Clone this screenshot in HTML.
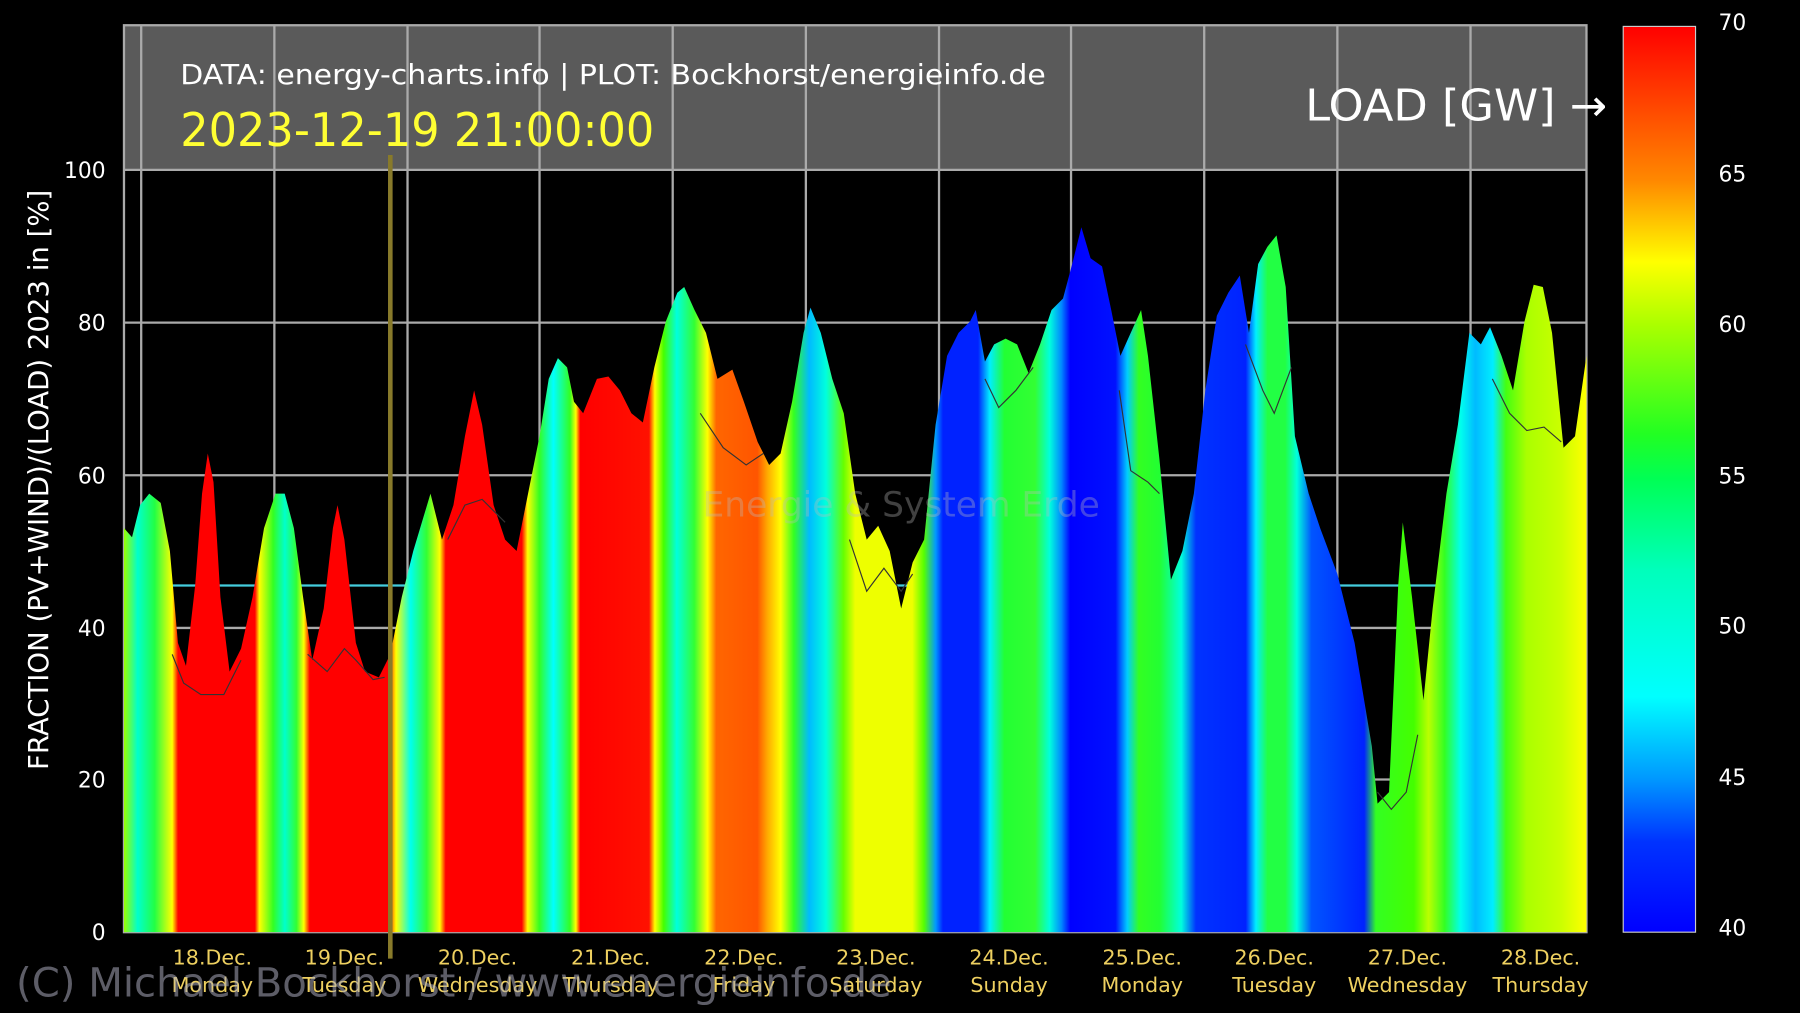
<!DOCTYPE html>
<html><head><meta charset="utf-8"><style>
html,body{margin:0;padding:0;background:#000;width:1800px;height:1013px;overflow:hidden}
svg{display:block}
</style></head><body>
<svg width="1800" height="1013" viewBox="0 0 1568 882.4" preserveAspectRatio="none" xmlns="http://www.w3.org/2000/svg" font-family="'DejaVu Sans','Liberation Sans',sans-serif">
<defs>
<linearGradient id="g" gradientUnits="userSpaceOnUse" x1="108" y1="0" x2="1382" y2="0">
<stop offset="0" stop-color="#9f0"/><stop offset=".0094" stop-color="#0fc"/><stop offset=".021" stop-color="#2f4"/>
<stop offset=".033" stop-color="#ff0"/><stop offset=".037" stop-color="#f00"/><stop offset=".0895" stop-color="#f00"/>
<stop offset=".0926" stop-color="#ff0"/><stop offset=".102" stop-color="#3f2"/><stop offset=".110" stop-color="#0fc"/>
<stop offset=".118" stop-color="#3f3"/><stop offset=".123" stop-color="#ff0"/><stop offset=".127" stop-color="#f00"/>
<stop offset=".1805" stop-color="#f00"/><stop offset=".186" stop-color="#ff0"/><stop offset=".196" stop-color="#0fe"/>
<stop offset=".207" stop-color="#3f3"/><stop offset=".216" stop-color="#ff0"/><stop offset=".220" stop-color="#f00"/>
<stop offset=".272" stop-color="#f00"/><stop offset=".276" stop-color="#ff0"/><stop offset=".284" stop-color="#3f2"/>
<stop offset=".2936" stop-color="#0ff"/><stop offset=".305" stop-color="#3f2"/><stop offset=".309" stop-color="#ff0"/>
<stop offset=".312" stop-color="#f00"/><stop offset=".359" stop-color="#f10"/><stop offset=".363" stop-color="#ff0"/>
<stop offset=".369" stop-color="#4f0"/><stop offset=".378" stop-color="#0fd"/><stop offset=".390" stop-color="#3f3"/>
<stop offset=".399" stop-color="#ff0"/><stop offset=".405" stop-color="#f60"/><stop offset=".433" stop-color="#f50"/>
<stop offset=".44" stop-color="#fa0"/><stop offset=".449" stop-color="#ff0"/><stop offset=".458" stop-color="#3f2"/>
<stop offset=".4686" stop-color="#0bf"/><stop offset=".480" stop-color="#0fd"/><stop offset=".492" stop-color="#6f0"/>
<stop offset=".500" stop-color="#ef0"/><stop offset=".539" stop-color="#ef0"/><stop offset=".547" stop-color="#5f0"/>
<stop offset=".555" stop-color="#09f"/><stop offset=".560" stop-color="#02f"/><stop offset=".584" stop-color="#02f"/>
<stop offset=".592" stop-color="#0ef"/><stop offset=".602" stop-color="#2f3"/><stop offset=".623" stop-color="#3f3"/>
<stop offset=".633" stop-color="#0fd"/><stop offset=".641" stop-color="#08f"/><stop offset=".647" stop-color="#00f"/>
<stop offset=".678" stop-color="#01f"/><stop offset=".686" stop-color="#0cf"/><stop offset=".694" stop-color="#3f2"/>
<stop offset=".708" stop-color="#2f3"/><stop offset=".723" stop-color="#0fd"/><stop offset=".733" stop-color="#03f"/>
<stop offset=".767" stop-color="#02f"/><stop offset=".774" stop-color="#0ef"/><stop offset=".782" stop-color="#2f4"/>
<stop offset=".794" stop-color="#2f4"/><stop offset=".802" stop-color="#0fd"/><stop offset=".812" stop-color="#05f"/>
<stop offset=".848" stop-color="#02f"/><stop offset=".856" stop-color="#3f2"/><stop offset=".882" stop-color="#4f0"/>
<stop offset=".892" stop-color="#bf0"/><stop offset=".903" stop-color="#3f2"/><stop offset=".914" stop-color="#0fe"/>
<stop offset=".924" stop-color="#0bf"/><stop offset=".936" stop-color="#0ef"/><stop offset=".945" stop-color="#4f1"/>
<stop offset=".959" stop-color="#af0"/><stop offset=".983" stop-color="#cf0"/><stop offset="1" stop-color="#ff0"/>
</linearGradient>
<linearGradient id="cb" x1="0" y1="0" x2="0" y2="1">
<stop offset="0" stop-color="#f00"/><stop offset=".17" stop-color="#f80"/><stop offset=".26" stop-color="#ff0"/>
<stop offset=".33" stop-color="#af0"/><stop offset=".45" stop-color="#2f2"/><stop offset=".5" stop-color="#0f5"/>
<stop offset=".6" stop-color="#0fb"/><stop offset=".74" stop-color="#0ff"/><stop offset=".83" stop-color="#09f"/>
<stop offset=".9" stop-color="#03f"/><stop offset="1" stop-color="#00f"/>
</linearGradient>
</defs>
<rect x="108" y="22" width="1274" height="126" fill="#5a5a5a"/>
<g stroke="#aaa" stroke-width="2" fill="none">
<line x1="108" y1="148" x2="1382" y2="148"/><line x1="108" y1="281" x2="1382" y2="281"/>
<line x1="108" y1="414" x2="1382" y2="414"/><line x1="108" y1="547" x2="1382" y2="547"/>
<line x1="108" y1="679" x2="1382" y2="679"/>
<line x1="123" y1="22" x2="123" y2="812"/><line x1="239" y1="22" x2="239" y2="812"/>
<line x1="355" y1="22" x2="355" y2="812"/><line x1="470" y1="22" x2="470" y2="812"/>
<line x1="586" y1="22" x2="586" y2="812"/><line x1="702" y1="22" x2="702" y2="812"/>
<line x1="818" y1="22" x2="818" y2="812"/><line x1="933" y1="22" x2="933" y2="812"/>
<line x1="1049" y1="22" x2="1049" y2="812"/><line x1="1165" y1="22" x2="1165" y2="812"/>
<line x1="1281" y1="22" x2="1281" y2="812"/>
<rect x="108" y="22" width="1274" height="790"/>
</g>
<line x1="150" y1="510" x2="1255" y2="510" stroke="#4cd" stroke-width="2"/>
<path fill="url(#g)" d="M108,812 L108,460 115,468 122,440 130,430 140,438 148,480 155,560 162,580 170,510 176,430 181,395 186,420 192,520 200,585 210,565 220,520 230,460 240,430 248,430 256,460 264,520 272,575 282,530 290,460 294,440 300,470 310,560 318,585 330,590 340,570 350,520 360,480 375,430 385,470 395,440 405,380 413,340 420,370 430,440 440,470 450,480 460,430 470,380 478,330 486,312 494,320 500,350 508,360 520,330 530,328 540,340 550,360 560,368 570,320 580,280 590,255 596,250 605,270 615,290 625,330 638,322 648,350 660,385 670,405 680,395 690,350 700,290 706,268 715,290 725,330 735,360 745,430 755,470 765,458 775,480 785,530 795,490 805,470 815,370 825,310 835,290 845,280 850,270 858,315 866,300 876,295 886,300 896,325 906,300 916,270 926,260 934,230 942,198 950,225 960,232 968,270 976,310 985,290 994,270 1000,310 1010,400 1020,505 1030,480 1040,430 1050,340 1060,275 1070,255 1080,240 1088,290 1096,230 1104,215 1112,205 1120,250 1128,380 1140,430 1150,460 1165,500 1180,560 1195,650 1200,700 1210,690 1218,510 1222,455 1230,520 1240,610 1248,530 1260,430 1270,370 1280,290 1290,300 1298,285 1308,310 1318,340 1328,280 1336,248 1344,250 1352,290 1362,390 1372,380 1382,310 L1382,812 Z"/>
<path fill="none" stroke="#333" stroke-width="1" d="M150,570 160,595 175,605 195,605 210,575 M268,570 285,585 300,565 310,575 325,592 335,590 M390,470 405,440 420,435 440,455 M610,360 630,390 650,405 665,395 M740,470 755,515 770,495 785,515 795,500 M858,330 870,355 885,340 900,320 M975,340 985,410 1000,420 1010,430 M1085,300 1100,340 1110,360 1125,320 M1200,690 1212,705 1225,690 1235,640 M1300,330 1315,360 1330,375 1345,372 1360,385"/>
<line x1="340" y1="135" x2="340" y2="835" stroke="#887a2a" stroke-width="4"/>
<g fill="#fff" font-size="19" text-anchor="end">
<text x="92" y="155">100</text><text x="92" y="288">80</text><text x="92" y="421">60</text>
<text x="92" y="554">40</text><text x="92" y="686">20</text><text x="92" y="819">0</text>
</g>
<text transform="translate(42,418) rotate(-90)" fill="#fff" font-size="24" text-anchor="middle">FRACTION (PV+WIND)/(LOAD) 2023 in [%]</text>
<text x="157" y="73" fill="#fff" font-size="24" textLength="754" lengthAdjust="spacingAndGlyphs">DATA: energy-charts.info | PLOT: Bockhorst/energieinfo.de</text>
<text x="157" y="127" fill="#ff3" font-size="40" textLength="413" lengthAdjust="spacingAndGlyphs">2023-12-19 21:00:00</text>
<text x="1137" y="105" fill="#fff" font-size="38" textLength="263" lengthAdjust="spacingAndGlyphs">LOAD [GW] →</text>
<text x="785" y="450" fill="#bbb" fill-opacity=".35" font-size="30" text-anchor="middle">Energie &amp; System Erde</text>
<g fill="#eed060" font-size="18" text-anchor="middle">
<text x="185" y="840">18.Dec.</text><text x="185" y="864">Monday</text>
<text x="300" y="840">19.Dec.</text><text x="300" y="864">Tuesday</text>
<text x="416" y="840">20.Dec.</text><text x="416" y="864">Wednesday</text>
<text x="532" y="840">21.Dec.</text><text x="532" y="864">Thursday</text>
<text x="648" y="840">22.Dec.</text><text x="648" y="864">Friday</text>
<text x="763" y="840">23.Dec.</text><text x="763" y="864">Saturday</text>
<text x="879" y="840">24.Dec.</text><text x="879" y="864">Sunday</text>
<text x="995" y="840">25.Dec.</text><text x="995" y="864">Monday</text>
<text x="1110" y="840">26.Dec.</text><text x="1110" y="864">Tuesday</text>
<text x="1226" y="840">27.Dec.</text><text x="1226" y="864">Wednesday</text>
<text x="1342" y="840">28.Dec.</text><text x="1342" y="864">Thursday</text>
</g>
<text x="14" y="868" fill="#aab" fill-opacity=".55" font-size="35">(C) Michael Bockhorst / www.energieinfo.de</text>
<rect x="1414" y="23" width="63" height="789" fill="url(#cb)" stroke="#ccc" stroke-width="1"/>
<g fill="#fff" font-size="19">
<text x="1497" y="26">70</text><text x="1497" y="158">65</text><text x="1497" y="289">60</text>
<text x="1497" y="421">55</text><text x="1497" y="552">50</text><text x="1497" y="684">45</text>
<text x="1497" y="815">40</text>
</g>
</svg>
</body></html>
